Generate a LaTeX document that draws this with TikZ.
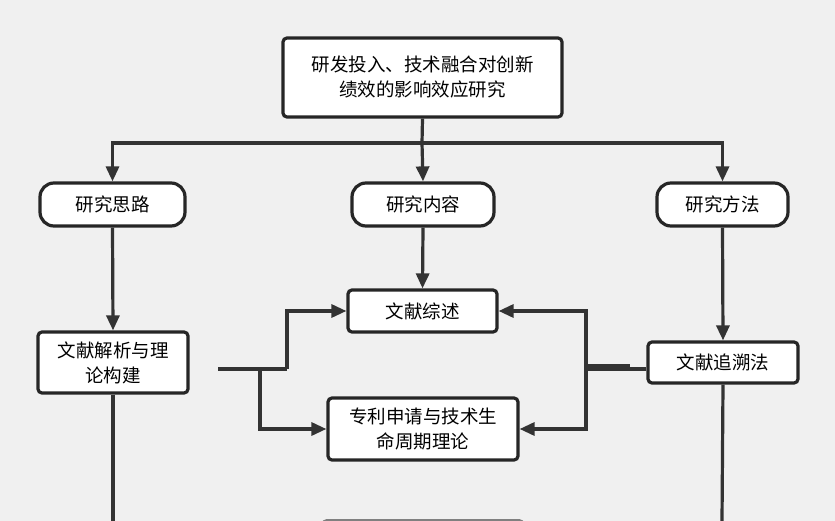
\documentclass[tikz,border=0pt]{standalone}
\usepackage{fontspec}
\setmainfont{Noto Sans CJK SC}
\usetikzlibrary{arrows.meta}
\begin{document}
\begin{tikzpicture}[x=1pt,y=-1pt,
  ln/.style={line width=3.2pt,draw=black!80},
  ar/.style={ln,-{Triangle[length=15pt,width=13pt]}},
  box/.style={draw=black!85,line width=3.2pt,fill=white,rounded corners=4pt,align=center,font=\fontsize{18.5}{25}\selectfont,inner sep=0pt},
  pill/.style={box,rounded corners=14pt}]
\fill[black!6] (0,0) rectangle (835,521);
\useasboundingbox (0,0) rectangle (835,521);
\node[box,minimum width=279pt,minimum height=79pt] (top) at (422.5,77.5) {研发投入、技术融合对创新\\绩效的影响效应研究};
\node[pill,minimum width=145pt,minimum height=43pt] (a) at (112.5,204.5) {研究思路};
\node[pill,minimum width=142pt,minimum height=43pt] (b) at (423,204.5) {研究内容};
\node[pill,minimum width=131pt,minimum height=43pt] (c) at (722.5,204.5) {研究方法};
\node[box,minimum width=149pt,minimum height=42pt] (zs) at (422.5,311) {文献综述};
\node[box,minimum width=150pt,minimum height=61pt] (jx) at (113,362.5) {文献解析与理\\论构建};
\node[box,minimum width=150pt,minimum height=41pt] (zs2) at (723,362.5) {文献追溯法};
\node[box,minimum width=190pt,minimum height=62pt] (zl) at (423,429) {专利申请与技术生\\命周期理论};
\node[box,draw=black!50,minimum width=200pt,minimum height=40pt,anchor=north] (bot) at (423,519) {};
\coordinate (h) at (422,143);
\draw[ln] (top.south) -- (h);
\draw[ar] (h) -| (a.north);
\draw[ar] (h) -- (b.north);
\draw[ar] (h) -| (c.north);
\draw[ar] (b.south) -- (zs.north);
\draw[ar] (a.south) -- (jx.north);
\draw[ar] (c.south) -- (zs2.north);
\coordinate (l0) at (218,369);
\coordinate (l1) at (287,369);
\coordinate (l2) at (260,369);
\draw[ln] (l0) -- (l1);
\draw[ar] (l1) |- (zs.west);
\draw[ar] (l2) |- (zl.west);
\coordinate (r0) at (586,369);
\coordinate (r1) at (630,366);
\draw[ln] (zs2.west |- r0) -- (r0);
\draw[ln] (r1) -- (584,366);
\draw[ar] (r0) |- (zs.east);
\draw[ar] (r0) |- (zl.east);
\coordinate (ba) at (113,521);
\coordinate (bc) at (722,521);
\draw[ln] (jx.south) -- (ba);
\draw[ln] (zs2.south) -- (bc);
\end{tikzpicture}
\end{document}
